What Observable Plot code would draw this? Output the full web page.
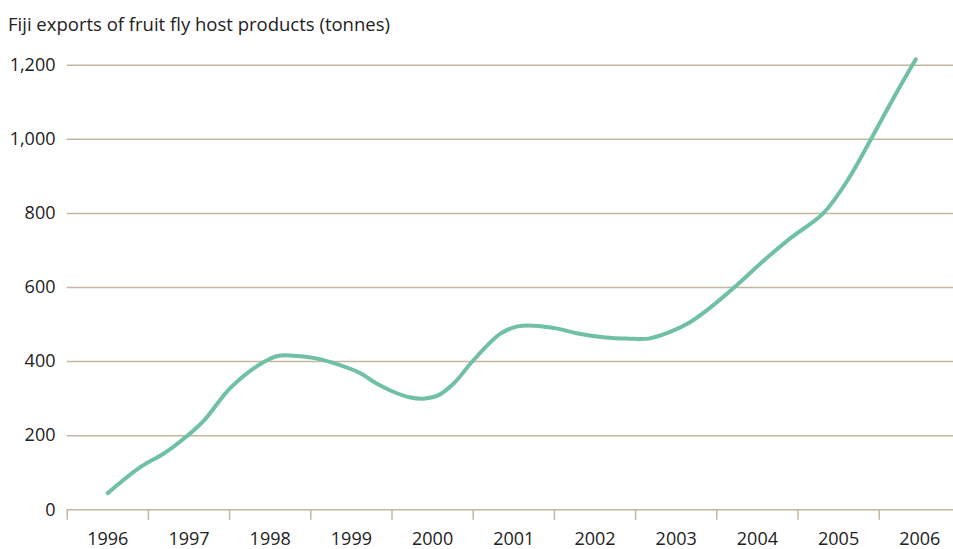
<!DOCTYPE html>
<html>
<head>
<meta charset="utf-8">
<script src="https://cdn.jsdelivr.net/npm/d3@7"></script>
<script src="https://cdn.jsdelivr.net/npm/@observablehq/plot@0.6"></script>
<style>
  html, body { margin: 0; padding: 0; background: #fff; }
  body { width: 953px; height: 549px; overflow: hidden; font-family: "Open Sans", sans-serif; }
  #title { box-sizing: border-box; height: 40px; padding-top: 14.7px; padding-left: 8px; font-size: 18.5px; line-height: 18px; color: #222; white-space: nowrap; }
  #chart svg { display: block; }
</style>
</head>
<body>
<div id="title">Fiji exports of fruit fly host products (tonnes)</div>
<div id="chart"></div>
<script>
// Year labels (categories)
const yearLabels = [1996, 1997, 1998, 1999, 2000, 2001, 2002, 2003, 2004, 2005, 2006];
// Y tick values
const yTicks = [0, 200, 400, 600, 800, 1000, 1200];
// Points (fractional year, tonnes)
const pointYears = [1996.00, 1996.40, 1996.69, 1996.98, 1997.18, 1997.51, 1997.84, 1998.09, 1998.34, 1998.58,
                    1998.84, 1999.10, 1999.30, 1999.50, 1999.73, 1999.88, 2000.06, 2000.26, 2000.50, 2000.84,
                    2001.05, 2001.24, 2001.54, 2001.79, 2002.13, 2002.41, 2002.66, 2002.91, 2003.16, 2003.45,
                    2003.74, 2004.08, 2004.40, 2004.81, 2005.11, 2005.39, 2005.68, 2005.95];
const pointTonnes = [45, 115, 152, 200, 240, 329, 388, 415, 415, 408,
                     392, 370, 342, 320, 303, 300, 308, 341, 403, 476,
                     495, 497, 489, 476, 465, 462, 462, 479, 505, 551,
                     605, 673, 732, 800, 889, 997, 1113, 1216];

const data = pointYears.map((yr, i) => ({year: yr, tonnes: pointTonnes[i]}));
const bandEdges = yearLabels.map(y => y - 0.5);

const gridColor = "#c3b6a0";
const lineColor = "#6fc0a7";
const W = 953, ML = 66.7;
const band = 81.2;
const xEnd = 1995.5 + (W - ML) / band;

const chart = Plot.plot({
  width: W,
  height: 509,
  marginLeft: ML,
  marginRight: 0,
  marginTop: 24.7,
  marginBottom: 39.7,
  style: {fontFamily: "Open Sans, sans-serif", fontSize: "18px", color: "#222", background: "#fff"},
  x: {domain: [1995.5, xEnd]},
  y: {domain: [0, 1200]},
  marks: [
    Plot.ruleY(yTicks, {y: d => d, stroke: gridColor, strokeWidth: 1.5}),
    Plot.axisY({ticks: yTicks, tickSize: 0, tickPadding: 11.7, tickFormat: d3.format(","), label: null, fontSize: 18, fill: "#222"}),
    Plot.axisX({ticks: bandEdges, tickSize: 10.5, tickFormat: () => "", stroke: gridColor, strokeWidth: 1.5, label: null}),
    Plot.axisX({ticks: yearLabels, tickSize: 0, tickPadding: 22, tickFormat: d => String(d), label: null, fontSize: 18, fill: "#222"}),
    Plot.line(data, {x: "year", y: "tonnes", curve: "catmull-rom", stroke: lineColor, strokeWidth: 4, strokeLinecap: "round", strokeLinejoin: "round"})
  ]
});
document.getElementById("chart").appendChild(chart);
</script>
</body>
</html>
